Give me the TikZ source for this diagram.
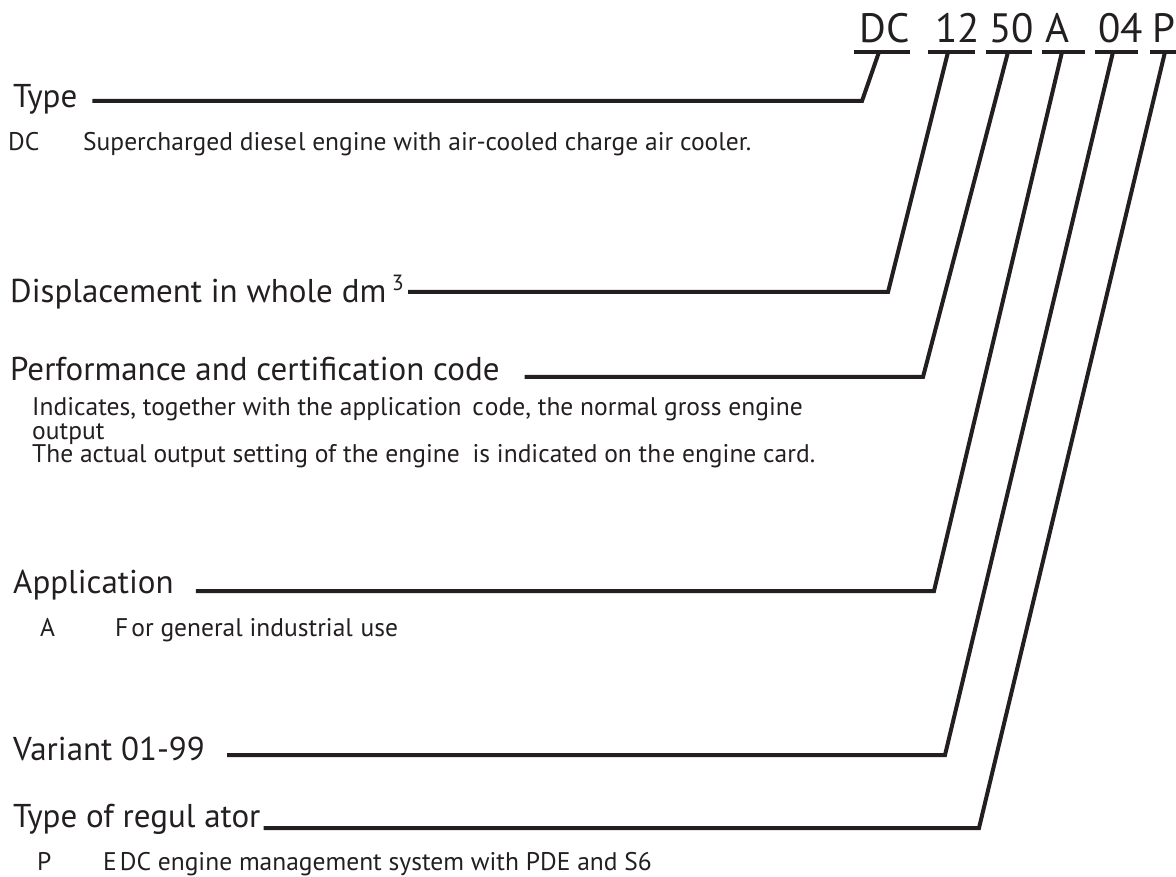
\documentclass[tikz,border=0pt]{standalone}
\usepackage{fontspec}
\setmainfont{PT Sans}
\usetikzlibrary{calc}
\definecolor{ink}{HTML}{231F20}
\begin{document}
\begin{tikzpicture}[x=1pt,y=-1pt,
  codetext/.style={font=\fontsize{41}{41}\selectfont, anchor=base west, inner sep=0pt, text=ink},
  headtext/.style={font=\fontsize{33}{38}\selectfont, anchor=base west, inner sep=0pt, text=ink},
  desctext/.style={font=\fontsize{25.5}{30}\selectfont, anchor=base west, inner sep=0pt, text=ink},
  lead/.style={line width=4pt, draw=ink, line join=miter},
  uline/.style={line width=4pt, draw=ink}]
\useasboundingbox (0,0) rectangle (1176,877);
\clip (0,0) rectangle (1176,877);

% code letters
\node[codetext] (cDC) at (859,43) {DC};
\node[codetext] (c12) at (935,43) {12};
\node[codetext] (c50) at (989,43) {50};
\node[codetext] (cA)  at (1045,43) {A};
\node[codetext] (c04) at (1098,43) {04};
\node[codetext] (cP)  at (1152,43) {P};

% underlines
\coordinate (uDCa) at (854,52); \coordinate (uDCb) at (910,52);
\coordinate (u12a) at (928,52); \coordinate (u12b) at (975,52);
\coordinate (u50a) at (986,52); \coordinate (u50b) at (1032,52);
\coordinate (uAa)  at (1042,52); \coordinate (uAb) at (1085,52);
\coordinate (u04a) at (1095,52); \coordinate (u04b) at (1138,52);
\coordinate (uPa)  at (1150,52); \coordinate (uPb) at (1190,52);
\draw[uline] (uDCa) -- (uDCb);
\draw[uline] (u12a) -- (u12b);
\draw[uline] (u50a) -- (u50b);
\draw[uline] (uAa) -- (uAb);
\draw[uline] (u04a) -- (u04b);
\draw[uline] (uPa) -- (uPb);

% attach points on the underlines
\coordinate (aDC) at (879,52);
\coordinate (a12) at (948,52);
\coordinate (a50) at (1008,52);
\coordinate (aA)  at (1062,52);
\coordinate (a04) at (1113,52);
\coordinate (aP)  at (1165,52);

% Type
\node[headtext] (hType) at (13,108) {Type};
\node[desctext] (dDCk) at (8,151) {DC};
\node[desctext] (dDC) at (83,151) {Supercharged diese\hspace{1pt}l engine with air-cooled charge air cooler.};
\coordinate (kType) at (862,101);
\coordinate (sType) at ($(hType.east |- kType)+(15,0)$);
\draw[lead] (sType) -- (kType) -- (aDC);

% Displacement
\node[headtext] (hDisp) at (10,303) {Displacement in whole dm\,\raisebox{12pt}{\fontsize{22}{22}\selectfont 3}};
\coordinate (kDisp) at (888,292);
\coordinate (sDisp) at ($(hDisp.east |- kDisp)+(4,0)$);
\draw[lead] (sDisp) -- (kDisp) -- (a12);

% Performance
\node[headtext] (hPerf) at (10,381) {Performance and certification code};
\node[desctext] (dPerf1) at (32,416) {Indicates, together with the application\hspace{4pt} c\hspace{1pt}ode, the normal gross engine};
\node[desctext] (dPerf2) at (32,439) {output};
\node[desctext] (dPerf3) at (32,462) {The actual output setting of the engine\hspace{6pt} is indicated on th\hspace{1pt}e engine card.};
\coordinate (kPerf) at (923,377);
\coordinate (sPerf) at ($(hPerf.east |- kPerf)+(25,0)$);
\draw[lead] (sPerf) -- (kPerf) -- (a50);

% Application
\node[headtext] (hAppl) at (13,593) {Application};
\node[desctext] (dAk) at (40,636) {A};
\node[desctext] (dA) at (115,636) {F\hspace{3pt}or general industrial\hspace{1pt} use};
\coordinate (kAppl) at (934,591);
\coordinate (sAppl) at ($(hAppl.east |- kAppl)+(22,0)$);
\draw[lead] (sAppl) -- (kAppl) -- (aA);

% Variant
\node[headtext] (hVar) at (13,760) {Variant 01-99};
\coordinate (kVar) at (945,755);
\coordinate (sVar) at ($(hVar.east |- kVar)+(22,0)$);
\draw[lead] (sVar) -- (kVar) -- (a04);

% Type of regulator
\node[headtext] (hReg) at (13,827) {Type of regul ator};
\node[desctext] (dPk) at (37,870) {P};
\node[desctext] (dP) at (103,870) {E\hspace{3pt}DC engine management system with PDE and S6};
\coordinate (kReg) at (979,828);
\coordinate (sReg) at ($(hReg.east |- kReg)+(3,0)$);
\draw[lead] (sReg) -- (kReg) -- (aP);
\end{tikzpicture}
\end{document}
